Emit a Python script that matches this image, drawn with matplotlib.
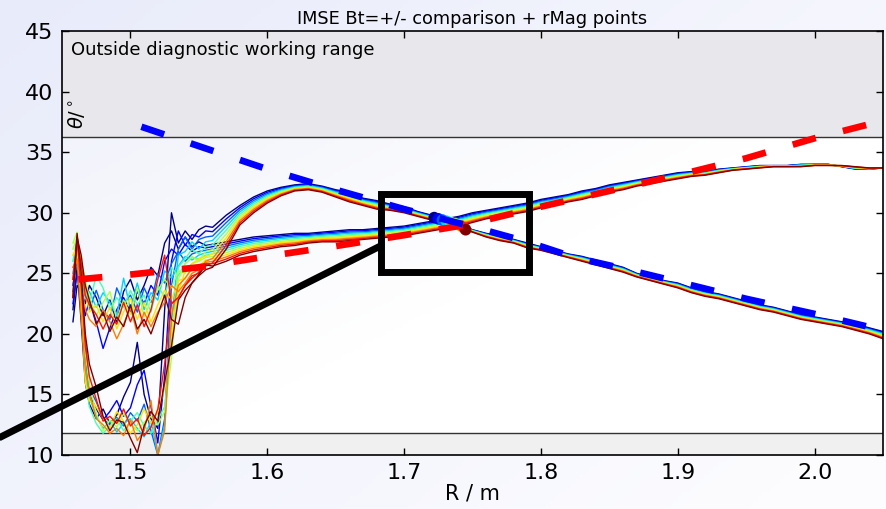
import numpy as np
import matplotlib
matplotlib.use("Agg")
import matplotlib.pyplot as plt
from matplotlib.patches import Rectangle

# radial grid for the noisy inner part and the smooth outer part
r_start = [1.458, 1.461, 1.464, 1.467, 1.470, 1.475, 1.480, 1.485, 1.490, 1.495, 1.500,
           1.505, 1.510, 1.515, 1.520, 1.525, 1.530, 1.535, 1.540, 1.545, 1.550, 1.555]
r_tail = [1.56, 1.57, 1.58, 1.59, 1.60, 1.61, 1.62, 1.63, 1.64, 1.65, 1.66, 1.67, 1.68,
          1.69, 1.70, 1.71, 1.72, 1.73, 1.74, 1.75, 1.76, 1.77, 1.78, 1.79, 1.80, 1.81,
          1.82, 1.83, 1.84, 1.85, 1.86, 1.87, 1.88, 1.89, 1.90, 1.91, 1.92, 1.93, 1.94,
          1.95, 1.96, 1.97, 1.98, 1.99, 2.00, 2.01, 2.02, 2.03, 2.04, 2.05]

# Bt- shots (peak near 1.63 then falling)
a_start = [
    [22.0, 25.5, 21.0, 16.0, 14.2, 13.0, 13.8, 12.6, 13.3, 14.8, 16.0, 19.3, 15.0, 13.0, 12.2, 22.0, 30.0, 27.5, 28.5, 27.8, 28.6, 28.9],
    [24.0, 26.5, 23.0, 18.0, 15.0, 13.8, 12.9, 13.6, 14.5, 13.2, 13.9, 15.8, 17.0, 14.0, 11.0, 16.5, 26.0, 28.5, 27.3, 28.2, 28.0, 28.5],
    [23.5, 27.0, 24.5, 19.5, 15.5, 14.4, 13.0, 12.5, 13.1, 12.4, 13.5, 12.8, 14.2, 12.0, 10.0, 13.0, 24.0, 27.0, 28.0, 27.0, 27.8, 28.0],
    [25.0, 27.5, 22.0, 17.5, 14.8, 13.2, 12.2, 12.8, 11.9, 12.6, 13.0, 12.2, 11.5, 12.8, 10.0, 12.5, 21.0, 26.5, 26.8, 27.6, 27.0, 27.6],
    [26.0, 28.0, 23.5, 16.5, 14.0, 12.6, 11.8, 12.4, 13.0, 12.0, 12.8, 13.5, 12.4, 11.8, 12.9, 14.0, 19.5, 25.5, 26.2, 27.0, 26.6, 27.2],
    [27.5, 28.4, 24.0, 18.5, 15.8, 13.5, 12.0, 12.9, 12.3, 13.4, 12.6, 12.0, 12.7, 13.2, 12.5, 13.6, 18.0, 24.5, 25.8, 26.4, 26.0, 26.8],
    [26.5, 27.0, 22.5, 16.0, 14.5, 14.0, 13.0, 12.2, 13.6, 12.8, 11.8, 12.5, 13.8, 12.6, 13.5, 15.5, 20.0, 23.5, 25.2, 25.8, 26.2, 26.4],
    [25.5, 26.0, 21.5, 17.0, 15.2, 13.0, 12.5, 11.8, 12.2, 11.6, 12.9, 11.2, 12.0, 14.5, 10.0, 12.0, 21.5, 24.0, 24.6, 25.4, 25.2, 26.0],
    [24.5, 27.8, 23.8, 19.0, 16.5, 14.6, 12.8, 13.2, 12.6, 13.8, 12.4, 13.0, 11.6, 12.3, 13.8, 17.5, 22.5, 23.0, 24.0, 24.8, 25.0, 25.6],
    [23.0, 28.3, 25.0, 20.0, 17.5, 15.6, 13.2, 12.0, 12.9, 12.7, 11.4, 10.2, 12.4, 13.6, 12.8, 16.0, 19.0, 22.8, 23.6, 24.2, 24.8, 25.3],
]
a_tail_top = [28.8, 29.8, 30.6, 31.3, 31.8, 32.1, 32.3, 32.4, 32.2, 31.9, 31.7, 31.2, 31.0,
              30.7, 30.5, 30.1, 29.8, 29.4, 29.0, 28.6, 28.3, 28.1, 27.8, 27.5, 27.2, 26.9,
              26.6, 26.4, 26.1, 25.8, 25.5, 25.0, 24.7, 24.4, 24.2, 23.8, 23.5, 23.3, 23.0,
              22.7, 22.4, 22.2, 21.9, 21.6, 21.4, 21.2, 21.0, 20.8, 20.5, 20.2]
a_tail_bot = [25.5, 27.0, 29.0, 30.0, 30.8, 31.4, 31.8, 31.9, 31.7, 31.3, 30.9, 30.6, 30.3,
              30.2, 30.0, 29.7, 29.4, 29.1, 28.8, 28.4, 28.0, 27.7, 27.5, 27.1, 26.9, 26.6,
              26.3, 26.0, 25.7, 25.4, 25.1, 24.7, 24.4, 24.1, 23.8, 23.4, 23.1, 22.9, 22.6,
              22.3, 22.0, 21.8, 21.5, 21.2, 21.0, 20.8, 20.6, 20.3, 20.0, 19.6]

# Bt+ shots (slow rise)
b_start = [
    [21.0, 24.0, 23.5, 22.5, 24.0, 23.0, 21.5, 22.8, 21.0, 23.5, 24.5, 22.8, 24.0, 25.5, 24.8, 27.5, 28.5, 27.0, 28.0, 27.2, 27.6, 27.3],
    [22.5, 25.0, 24.0, 21.5, 22.8, 21.0, 18.8, 20.5, 22.0, 23.0, 21.8, 23.5, 22.5, 24.0, 23.2, 26.0, 27.0, 26.5, 27.4, 26.8, 27.2, 27.1],
    [24.0, 26.0, 25.0, 23.5, 22.0, 23.6, 22.0, 21.2, 23.8, 22.5, 23.2, 21.8, 23.8, 22.6, 25.0, 24.2, 25.8, 26.8, 26.0, 26.6, 26.8, 26.9],
    [25.0, 26.5, 24.5, 23.0, 23.5, 22.2, 23.4, 22.6, 21.5, 24.6, 22.0, 24.2, 22.0, 23.4, 22.8, 25.2, 24.6, 25.6, 26.4, 26.1, 26.5, 26.7],
    [26.0, 27.0, 25.6, 24.0, 22.5, 24.8, 23.8, 22.0, 23.0, 22.2, 23.6, 22.4, 23.2, 21.8, 24.0, 23.0, 25.5, 24.8, 25.8, 26.3, 26.2, 26.5],
    [27.0, 28.0, 26.0, 24.5, 23.0, 21.5, 22.6, 23.5, 21.2, 22.8, 21.6, 23.8, 21.4, 22.8, 23.6, 24.5, 23.8, 25.2, 25.0, 25.8, 26.0, 26.3],
    [26.5, 27.2, 25.2, 23.5, 21.8, 22.4, 21.0, 22.2, 20.4, 21.8, 23.0, 21.2, 22.6, 21.0, 22.4, 23.6, 22.8, 24.4, 24.6, 25.4, 25.6, 26.1],
    [25.5, 26.2, 24.2, 22.0, 21.2, 20.6, 22.0, 21.0, 19.6, 20.8, 22.2, 20.0, 21.8, 20.6, 21.8, 22.6, 24.0, 23.5, 24.2, 25.0, 25.3, 25.9],
    [24.5, 27.5, 25.8, 23.2, 22.4, 21.6, 20.4, 21.6, 20.8, 22.6, 21.0, 22.4, 20.6, 22.0, 24.5, 26.5, 22.5, 23.0, 24.0, 24.6, 25.1, 25.8],
    [23.0, 28.0, 26.5, 24.0, 22.8, 20.8, 21.8, 20.2, 21.4, 20.6, 22.4, 20.4, 21.2, 20.0, 21.6, 23.2, 21.2, 20.8, 23.0, 24.2, 24.9, 25.7],
]
b_tail_top = [27.4, 27.6, 27.8, 28.0, 28.1, 28.2, 28.3, 28.3, 28.4, 28.5, 28.6, 28.6, 28.7,
              28.8, 28.9, 29.1, 29.3, 29.5, 29.7, 30.0, 30.2, 30.4, 30.6, 30.8, 31.1, 31.3,
              31.5, 31.8, 32.0, 32.3, 32.5, 32.7, 32.9, 33.1, 33.3, 33.4, 33.4, 33.6, 33.7,
              33.8, 33.9, 33.9, 33.9, 34.0, 34.0, 34.0, 33.8, 33.6, 33.6, 33.7]
b_tail_bot = [25.6, 26.0, 26.5, 26.8, 27.0, 27.2, 27.3, 27.5, 27.6, 27.6, 27.7, 27.8, 27.9,
              28.0, 28.1, 28.3, 28.5, 28.7, 28.9, 29.2, 29.5, 29.7, 29.9, 30.1, 30.4, 30.6,
              30.9, 31.1, 31.4, 31.7, 31.9, 32.2, 32.4, 32.6, 32.8, 33.0, 33.1, 33.3, 33.5,
              33.6, 33.7, 33.8, 33.8, 33.8, 33.9, 33.9, 33.9, 33.8, 33.7, 33.7]

shot_pos = [0.0, 0.11, 0.22, 0.33, 0.44, 0.56, 0.67, 0.78, 0.89, 1.0]

# model fits
red_r = [1.462, 1.50, 1.55, 1.60, 1.65, 1.70, 1.745, 1.80, 1.85, 1.90, 1.95, 2.00, 2.05]
red_th = [24.5, 24.9, 25.5, 26.4, 27.25, 28.15, 29.0, 30.5, 31.8, 33.1, 34.5, 36.15, 37.6]
blue_r = [1.508, 1.55, 1.60, 1.65, 1.70, 1.745, 1.79, 1.825, 1.86, 1.90, 1.95, 2.00, 2.05]
blue_th = [37.1, 35.5, 33.6, 31.9, 30.3, 29.0, 27.6, 26.3, 25.4, 24.3, 22.9, 21.65, 20.3]

# rMag points
rmag_r = [1.722, 1.725, 1.728, 1.731, 1.734, 1.737, 1.740, 1.742, 1.744, 1.745]
rmag_th = [29.6, 29.5, 29.4, 29.3, 29.2, 29.1, 29.0, 28.9, 28.75, 28.6]

box = (1.683, 25.14, 1.7915, 31.57)
link_r = [1.38, 1.684]
link_th = [10.06, 27.33]

lim_hi = 36.25
lim_lo = 11.8

fig = plt.figure(figsize=(8.86, 5.09), dpi=100)

# soft background gradient
bg = fig.add_axes([0, 0, 1, 1], zorder=-10)
bg.axis("off")
gx, gy = np.meshgrid(np.linspace(0, 1, 200), np.linspace(0, 1, 120))
t = np.clip(0.65 * gx + 0.45 * gy, 0, 1)[..., None]
c0 = np.array([232, 235, 250]) / 255
c1 = np.array([252, 252, 255]) / 255
bg.imshow(c0 * (1 - t) + c1 * t, aspect="auto", extent=[0, 1, 0, 1])

ax = fig.add_axes([0.070, 0.106, 0.9266, 0.833])
t2 = np.clip(0.9 * gx + 0.9 * gy, 0, 1)[..., None]
c2 = np.array([238, 240, 250]) / 255
ax.imshow(c2 * (1 - t2) + np.ones(3) * t2, aspect="auto",
          extent=[1.45, 2.05, 10, 45], zorder=0)

ax.axhspan(lim_hi, 45, color="#e8e8ec", zorder=0.5, lw=0)
ax.axhspan(10, lim_lo, color="#f0f0f0", zorder=0.5, lw=0)
ax.axhline(lim_hi, color="#333333", lw=1.0, zorder=0.6)
ax.axhline(lim_lo, color="#333333", lw=1.0, zorder=0.6)
ax.text(0.011, 0.955, "Outside diagnostic working range", transform=ax.transAxes,
        fontsize=13, ha="left", va="center", zorder=1)
ax.text(0.018, 0.805, r"$\theta/^\circ$", transform=ax.transAxes, fontsize=14,
        rotation=90, ha="center", va="center", zorder=1)

colors = plt.cm.jet(shot_pos)
r_all = r_start + r_tail
for k, w in enumerate(shot_pos):
    a_tail = [p * (1 - w) + q * w for p, q in zip(a_tail_top, a_tail_bot)]
    b_tail = [p * (1 - w) + q * w for p, q in zip(b_tail_top, b_tail_bot)]
    ax.plot(r_all, a_start[k] + a_tail, color=colors[k], lw=1.0, zorder=2)
    ax.plot(r_all, b_start[k] + b_tail, color=colors[k], lw=1.0, zorder=2)

ax.scatter(rmag_r, rmag_th, c=plt.cm.jet(shot_pos), s=70, lw=0, zorder=3)

ax.plot(red_r, red_th, color="red", lw=4.8, dashes=(3.6, 4.2), zorder=4)
ax.plot(blue_r, blue_th, color="blue", lw=4.8, dashes=(3.6, 4.2), zorder=4)

ax.add_patch(Rectangle((box[0], box[1]), box[2] - box[0], box[3] - box[1],
                       fill=False, ec="black", lw=5, zorder=6))
ax.plot(link_r, link_th, color="black", lw=5, zorder=6, clip_on=False,
        solid_capstyle="butt")

ax.set_xlim(1.45, 2.05)
ax.set_ylim(10, 45)
ax.set_xticks([1.5, 1.6, 1.7, 1.8, 1.9, 2.0])
ax.set_yticks([10, 15, 20, 25, 30, 35, 40, 45])
ax.tick_params(direction="in", length=5, width=1, top=True, right=True,
               labelsize=16, pad=6)
for s in ax.spines.values():
    s.set_linewidth(1.2)
ax.set_xlabel("R / m", fontsize=15, labelpad=0)
ax.set_title("IMSE Bt=+/- comparison + rMag points", fontsize=12.8, pad=5)

fig.savefig("out.png", dpi=100)
